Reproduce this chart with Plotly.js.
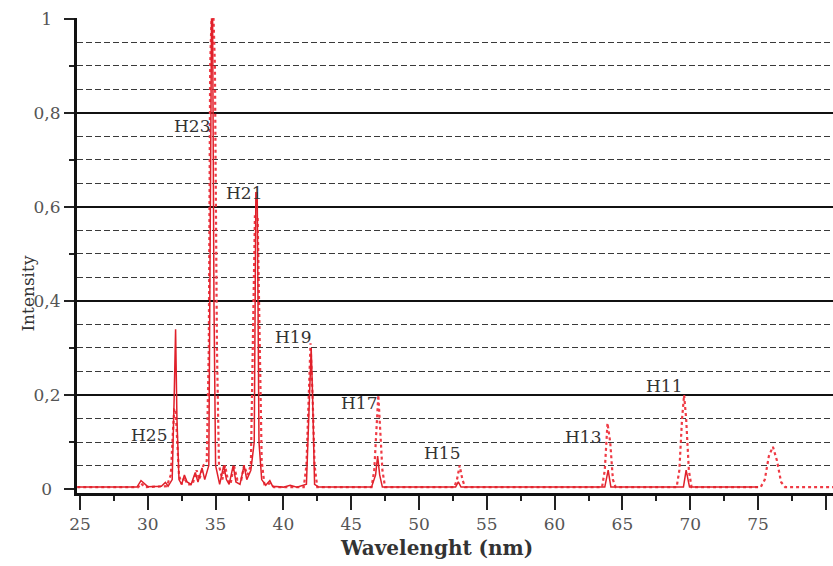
<!DOCTYPE html>
<html>
<head>
<meta charset="utf-8">
<script src="https://cdn.plot.ly/plotly-3.0.1.min.js"></script>
<style>html,body{margin:0;padding:0;background:#fff;}#chart{width:833px;height:566px;}</style>
</head>
<body>
<div id="chart"></div>
<script>
// Solid-line spectrum (wavelength nm, normalised intensity)
const solidX = [24.8, 29.2, 29.5, 29.7, 30.0, 31.0, 31.3, 31.5, 31.8, 31.95, 32.05, 32.15, 32.3, 32.5, 32.7, 32.9, 33.2, 33.5, 33.7, 34.0, 34.2, 34.5, 34.62, 34.7, 34.78, 34.88, 35.0, 35.3, 35.6, 35.8, 36.0, 36.3, 36.5, 36.8, 37.1, 37.3, 37.6, 37.85, 37.97, 38.07, 38.2, 38.4, 38.7, 39.0, 39.2, 40.0, 40.5, 41.0, 41.7, 41.95, 42.05, 42.15, 42.3, 42.6, 46.5, 46.8, 46.95, 47.1, 47.3, 52.7, 52.9, 53.1, 63.7, 63.95, 64.15, 69.5, 69.7, 69.95, 75.0];
const solidY = [0.004, 0.004, 0.018, 0.012, 0.005, 0.006, 0.014, 0.006, 0.02, 0.2, 0.34, 0.15, 0.02, 0.01, 0.03, 0.015, 0.01, 0.035, 0.015, 0.045, 0.02, 0.05, 0.5, 1.0, 1.0, 0.4, 0.05, 0.01, 0.05, 0.02, 0.01, 0.05, 0.015, 0.01, 0.05, 0.02, 0.04, 0.1, 0.63, 0.63, 0.1, 0.02, 0.008, 0.018, 0.006, 0.004, 0.008, 0.004, 0.01, 0.2, 0.3, 0.2, 0.01, 0.004, 0.004, 0.03, 0.07, 0.03, 0.004, 0.004, 0.015, 0.004, 0.004, 0.04, 0.004, 0.004, 0.04, 0.004, 0.004];

// Dotted-line spectrum
const dottedX = [24.8, 29.3, 29.5, 29.8, 31.4, 31.7, 31.85, 31.95, 32.05, 32.15, 32.3, 32.5, 32.7, 32.9, 33.3, 33.6, 33.8, 34.1, 34.35, 34.5, 34.6, 34.7, 34.85, 34.95, 35.1, 35.25, 35.5, 35.7, 35.9, 36.1, 36.35, 36.6, 36.9, 37.1, 37.35, 37.6, 37.75, 37.9, 38.1, 38.25, 38.4, 38.6, 39.0, 39.3, 41.5, 41.7, 41.85, 42.0, 42.15, 42.3, 42.5, 46.5, 46.7, 46.85, 47.0, 47.15, 47.3, 47.5, 52.6, 52.8, 53.0, 53.2, 53.4, 63.5, 63.7, 63.9, 64.1, 64.3, 64.5, 69.0, 69.2, 69.4, 69.55, 69.7, 69.9, 70.1, 75.2, 75.5, 75.8, 76.1, 76.4, 76.7, 77.0, 80.6];
const dottedY = [0.004, 0.004, 0.012, 0.004, 0.006, 0.03, 0.12, 0.17, 0.17, 0.12, 0.03, 0.01, 0.025, 0.01, 0.01, 0.04, 0.02, 0.05, 0.06, 0.3, 0.9, 1.0, 1.0, 0.9, 0.3, 0.05, 0.02, 0.05, 0.02, 0.01, 0.05, 0.02, 0.02, 0.05, 0.03, 0.05, 0.3, 0.58, 0.58, 0.3, 0.06, 0.01, 0.012, 0.004, 0.004, 0.05, 0.2, 0.31, 0.2, 0.05, 0.004, 0.004, 0.04, 0.12, 0.2, 0.12, 0.04, 0.004, 0.004, 0.02, 0.05, 0.02, 0.004, 0.004, 0.04, 0.14, 0.1, 0.02, 0.004, 0.004, 0.04, 0.15, 0.2, 0.15, 0.04, 0.004, 0.004, 0.02, 0.07, 0.09, 0.06, 0.015, 0.004, 0.004];

// Harmonic labels
const harmLabels = ["H25", "H23", "H21", "H19", "H17", "H15", "H13", "H11"];
const harmLabelX = [30.1, 33.25, 37.1, 40.7, 45.6, 51.7, 62.1, 68.1];
const harmLabelY = [0.115, 0.772, 0.63, 0.323, 0.183, 0.077, 0.11, 0.22];

// Axis ticks
const yTickVals = [0, 0.2, 0.4, 0.6, 0.8, 1];
const yTickText = ["0\u2002", "0,2", "0,4", "0,6", "0,8", "1\u2002"];
const yMinorVals = [0.1, 0.3, 0.5, 0.7, 0.9];
const yMajorGrid = [0.2, 0.4, 0.6, 0.8, 1.0];
const yDashGrid = [0.05, 0.1, 0.15, 0.25, 0.3, 0.35, 0.45, 0.5, 0.55, 0.65, 0.7, 0.75, 0.85, 0.9, 0.95];

const serif = "DejaVu Serif, Liberation Serif, serif";
const yRange = [-0.0085, 1.002];

const traces = [
  {x: dottedX, y: dottedY, type: 'scatter', mode: 'lines', yaxis: 'y',
   line: {color: '#ef3b45', width: 2.2, dash: 'dot'}, hoverinfo: 'skip'},
  {x: solidX, y: solidY, type: 'scatter', mode: 'lines', yaxis: 'y2',
   line: {color: '#e0202a', width: 1.5}, hoverinfo: 'skip'}
];

const annotations = harmLabels.map((t, i) => ({
  text: t, x: harmLabelX[i], y: harmLabelY[i], xref: 'x', yref: 'y',
  showarrow: false, xanchor: 'center', yanchor: 'middle',
  font: {family: serif, size: 17, color: '#333'}
}));
annotations.push({
  text: '<b>Wavelenght (nm)</b>', xref: 'paper', yref: 'paper',
  x: 0.476, y: -0.116, showarrow: false, xanchor: 'center', yanchor: 'middle',
  font: {family: serif, size: 20, color: '#333'}
});
annotations.push({
  text: 'Intensity', xref: 'paper', yref: 'paper', textangle: -90,
  x: -0.066, y: 0.42, showarrow: false, xanchor: 'center', yanchor: 'middle',
  font: {family: serif, size: 17, color: '#333'}
});

const layout = {
  width: 833, height: 566,
  margin: {l: 77, r: 0, t: 18, b: 73, pad: 0},
  paper_bgcolor: '#fff', plot_bgcolor: '#fff',
  showlegend: false,
  separators: ', ',
  xaxis: {
    range: [24.78, 80.53], tick0: 25, dtick: 5, ticks: 'outside', ticklen: 14, tickwidth: 2,
    tickcolor: '#222', showline: true, linewidth: 3, linecolor: '#111', showgrid: false,
    zeroline: false, tickfont: {family: serif, size: 17, color: '#555'},
    minor: {dtick: 2.5, tick0: 25, ticks: 'outside', ticklen: 5, tickwidth: 2, tickcolor: '#222', showgrid: false}
  },
  yaxis: {
    range: yRange, tickmode: 'array', tickvals: yTickVals, ticktext: yTickText,
    ticks: 'outside', ticklen: 10, tickwidth: 2, tickcolor: '#222',
    showline: true, linewidth: 3, linecolor: '#111', showgrid: false, zeroline: false,
    tickfont: {family: serif, size: 17, color: '#555'},
    minor: {tickmode: 'array', tickvals: yMinorVals, ticks: 'outside', ticklen: 5, tickwidth: 2, tickcolor: '#222', showgrid: false}
  },
  yaxis2: {
    range: yRange, overlaying: 'y', side: 'left', tickmode: 'array', tickvals: yMajorGrid,
    showticklabels: false, ticks: '', showline: false, zeroline: false,
    showgrid: true, gridcolor: '#111', gridwidth: 2,
    minor: {tickmode: 'array', tickvals: yDashGrid, ticks: '', showgrid: true,
            gridcolor: '#3a3a3a', gridwidth: 1, griddash: '6px,3px'}
  },
  annotations: annotations
};

Plotly.newPlot('chart', traces, layout, {displayModeBar: false, staticPlot: true});
</script>
</body>
</html>
